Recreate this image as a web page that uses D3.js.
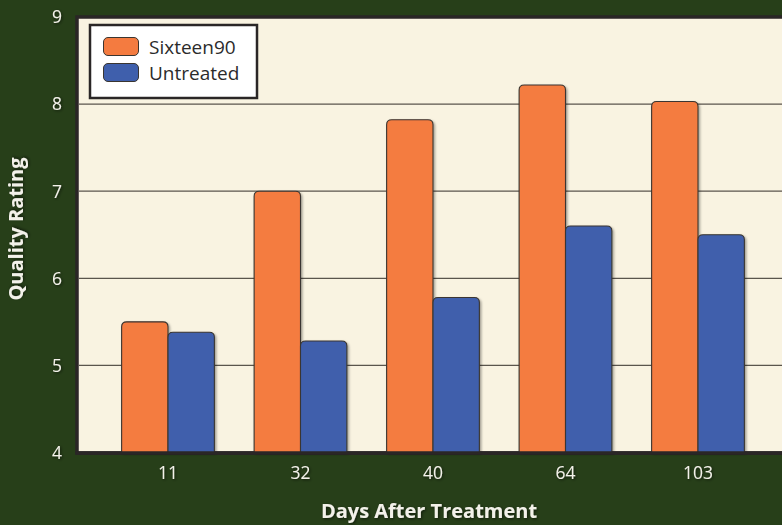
<!DOCTYPE html>
<html><head><meta charset="utf-8">
<script src="https://cdn.jsdelivr.net/npm/d3@7"></script>
<style>
html,body{margin:0;padding:0;background:#273f19;}
svg{display:block;}
text{font-family:"Open Sans","Noto Sans",sans-serif;}
</style></head>
<body>
<svg id="c" width="782" height="525"></svg>
<script>
const categories = ["11","32","40","64","103"];
const seriesNames = ["Sixteen90","Untreated"];
const sixteen90 = [5.5, 7.0, 7.82, 8.22, 8.03];
const untreated = [5.38, 5.28, 5.78, 6.6, 6.5];
const yTicks = [4,5,6,7,8,9];
const colors = ["#f47b40","#3f5fac"];

const svg = d3.select("#c");
const W = 782, H = 525;
svg.append("rect").attr("width",W).attr("height",H).attr("fill","#273f19");

const plot = {left:77, top:17, right:790, bottom:453};
const y = d3.scaleLinear().domain([4,9]).range([452.5,17]);
const x0 = d3.scaleBand().domain(categories).range([101.75,764.25]).paddingInner(0.3).paddingOuter(0.15);
const x1 = d3.scaleBand().domain(seriesNames).range([0,x0.bandwidth()]);

const defs = svg.append("defs");
const f = defs.append("filter").attr("id","sh").attr("x","-20%").attr("y","-20%").attr("width","150%").attr("height","150%");
f.append("feDropShadow").attr("dx",1.5).attr("dy",1.5).attr("stdDeviation",1.2).attr("flood-color","#000").attr("flood-opacity",0.35);
const tf = defs.append("filter").attr("id","tsh").attr("x","-30%").attr("y","-30%").attr("width","160%").attr("height","160%");
tf.append("feDropShadow").attr("dx",1).attr("dy",1).attr("stdDeviation",1.5).attr("flood-color","#000").attr("flood-opacity",0.6);

// plot frame
svg.append("rect").attr("x",plot.left).attr("y",plot.top).attr("width",plot.right-plot.left).attr("height",plot.bottom-plot.top)
  .attr("fill","#f9f3e1").attr("stroke","#2a2626").attr("stroke-width",3.5);

// gridlines
svg.append("g").selectAll("line").data(yTicks.filter(d=>d>4&&d<9)).join("line")
  .attr("x1",plot.left+2).attr("x2",W).attr("y1",d=>y(d)).attr("y2",d=>y(d))
  .attr("stroke","#5a554c").attr("stroke-width",1.3);

// y tick labels
svg.append("g").selectAll("text").data(yTicks).join("text")
  .attr("x",62).attr("y",d=>y(d)).attr("dy","0.36em").attr("text-anchor","end")
  .attr("fill","#f3f1ea").attr("font-size",17.5).attr("filter","url(#tsh)").text(d=>d);

// bars
const data = categories.map((c,i)=>({c, vals:[sixteen90[i],untreated[i]]}));
function barPath(x,yt,w,yb,r){
  return `M${x},${yb}V${yt+r}Q${x},${yt} ${x+r},${yt}H${x+w-r}Q${x+w},${yt} ${x+w},${yt+r}V${yb}Z`;
}
const g = svg.append("g").attr("filter","url(#sh)");
data.forEach(d=>{
  d.vals.forEach((v,j)=>{
    const bx = x0(d.c)+x1(seriesNames[j]);
    g.append("path").attr("d",barPath(bx,y(v),x1.bandwidth(),y(4),5))
      .attr("fill",colors[j]).attr("stroke","#3a3530").attr("stroke-width",1.1);
  });
});

// bottom axis line
svg.append("line").attr("x1",plot.left-1.75).attr("x2",W).attr("y1",plot.bottom).attr("y2",plot.bottom)
  .attr("stroke","#2a2626").attr("stroke-width",3.5);

// x tick labels
svg.append("g").selectAll("text").data(categories).join("text")
  .attr("x",d=>x0(d)+x0.bandwidth()/2).attr("y",473).attr("dy","0.36em").attr("text-anchor","middle")
  .attr("fill","#f3f1ea").attr("font-size",17.5).attr("filter","url(#tsh)").text(d=>d);

// axis titles
svg.append("text").attr("x",429).attr("y",511).attr("dy","0.36em").attr("text-anchor","middle")
  .attr("fill","#f3f1ea").attr("font-size",20).attr("font-weight","bold").attr("filter","url(#tsh)").text("Days After Treatment");
svg.append("text").attr("transform","translate(16,229) rotate(-90)").attr("dy","0.36em").attr("text-anchor","middle")
  .attr("fill","#f3f1ea").attr("font-size",20).attr("font-weight","bold").attr("filter","url(#tsh)").text("Quality Rating");

// legend
const lg = svg.append("g");
lg.append("rect").attr("x",90).attr("y",25).attr("width",167).attr("height",73)
  .attr("fill","#ffffff").attr("stroke","#2a2626").attr("stroke-width",2.5);
seriesNames.forEach((s,i)=>{
  lg.append("rect").attr("x",103.5).attr("y",37.5+i*26).attr("width",35).attr("height",18).attr("rx",4.5)
    .attr("fill",colors[i]).attr("stroke","#3a3530").attr("stroke-width",1);
  lg.append("text").attr("x",149).attr("y",47+i*26).attr("dy","0.36em")
    .attr("fill","#2b2b2b").attr("font-size",19).text(s);
});
</script>
</body></html>
